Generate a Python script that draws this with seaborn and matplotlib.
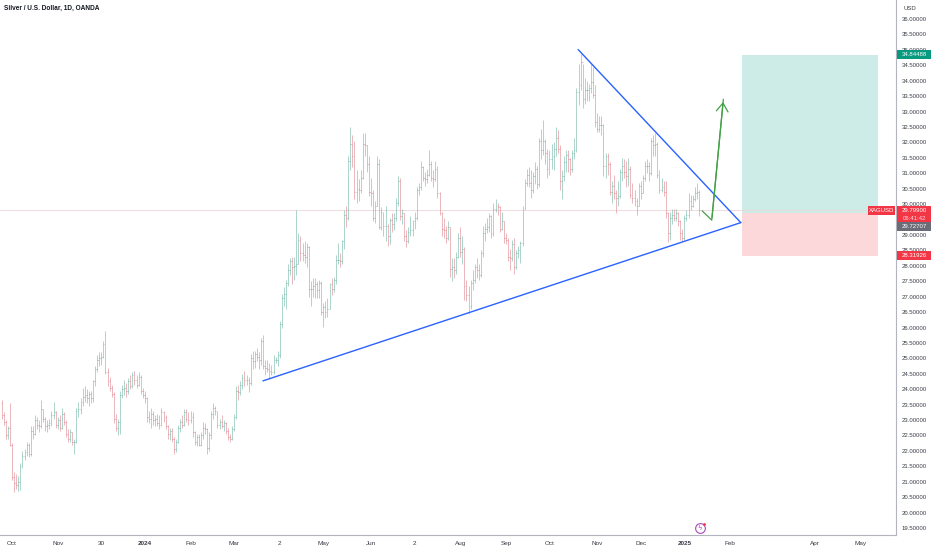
import numpy as np
import pandas as pd
import matplotlib
matplotlib.use("Agg")
import matplotlib.pyplot as plt
import seaborn as sns
from matplotlib.transforms import blended_transform_factory
from matplotlib.patches import Rectangle

# ---------------- data ----------------
title = "Silver / U.S. Dollar, 1D, OANDA"
start_date = "2023-09-25"
end_date = "2025-01-13"
holidays = ["2023-12-25", "2024-01-01", "2024-12-25", "2025-01-01"]
first_open = 23.55

closes = [
    23.15, 22.95, 22.50, 22.75, 22.20,
    21.15, 20.95, 20.90, 21.00, 21.50, 21.85, 21.95, 22.20, 21.90, 22.65, 22.55, 23.00, 22.85, 22.80, 23.35, 23.05, 22.80, 22.85, 22.90, 23.15, 23.25, 22.85,
    23.00, 22.75, 23.20, 22.95, 22.55, 22.40, 22.60, 22.30, 22.30, 23.30, 23.35, 23.60, 23.75, 23.80, 23.70, 23.85, 23.70, 24.25, 24.65, 24.95, 25.00, 25.05,
    25.45, 24.55, 24.25, 24.05, 23.85, 23.05, 22.75, 22.95, 23.80, 24.00, 24.05, 23.95, 24.25, 24.10, 24.45, 24.30, 24.15, 24.40, 23.95, 23.80,
    23.70, 23.10, 23.05, 23.20, 23.00, 23.05, 22.90, 22.85, 23.25, 23.10, 22.80, 22.55, 22.65, 22.40, 22.05, 22.30, 22.75, 22.95, 22.85, 23.25, 23.05, 23.00,
    23.10, 22.60, 22.30, 22.45, 22.20, 22.50, 22.75, 22.70, 22.10, 22.50, 23.20, 23.40, 23.30, 22.85, 22.95, 22.80, 22.90, 22.65, 22.45, 22.40, 22.70,
    23.10, 23.95, 23.90, 24.15, 24.35, 24.30, 24.30, 24.20, 25.00, 24.90, 25.15, 25.05, 24.95, 25.55, 24.75, 24.70, 24.65, 24.60, 24.55, 24.95, 24.95,
    25.10, 26.10, 26.95, 27.10, 27.45, 27.85, 28.15, 27.95, 28.00, 28.05, 28.85, 28.40, 28.35, 28.30, 28.60, 27.25, 27.25, 27.35, 27.40, 27.20, 27.45, 26.50,
    26.65, 26.50, 26.60, 27.40, 27.25, 27.55, 28.20, 28.20, 28.15, 28.80, 29.65, 29.55, 31.40, 31.95, 31.55, 30.40, 30.50, 30.45, 30.85, 31.95, 31.90, 31.30, 30.40,
    30.35, 29.55, 29.95, 31.30, 29.25, 29.75, 29.30, 29.30, 28.95, 29.50, 29.35, 29.55, 30.05, 30.75, 29.60, 29.70, 28.95, 28.80, 29.10, 29.15,
    29.45, 29.55, 30.45, 30.55, 31.20, 30.85, 30.80, 30.95, 31.30, 30.85, 30.80, 31.15, 30.35, 29.70, 29.20, 29.15, 28.90, 29.25, 27.90, 27.95, 27.85, 28.30, 28.90,
    28.45, 28.55, 27.35, 27.05, 26.70, 27.45, 27.55, 27.95, 27.85, 27.70, 28.40, 29.05, 29.20, 29.25, 29.60, 29.05, 29.85, 29.95, 29.90, 29.20, 29.45, 28.90,
    28.85, 28.30, 28.25, 28.70, 27.95, 28.40, 28.50, 28.75, 29.85, 30.70, 30.95, 30.70, 30.45, 30.90, 31.15, 30.65, 32.05, 31.75, 32.05, 31.65, 31.15,
    31.45, 31.55, 31.80, 32.15, 31.80, 30.75, 30.90, 31.35, 31.60, 31.45, 31.15, 31.65, 31.75, 33.65, 33.85, 34.60, 33.40, 33.70, 33.70, 33.75, 33.95, 33.55, 32.65,
    32.45, 32.55, 32.55, 31.25, 31.55, 31.30, 30.40, 30.60, 30.35, 30.20, 30.25, 31.05, 31.25, 31.05, 30.90, 31.15, 30.30, 30.20, 30.10, 29.95, 30.60,
    30.35, 30.85, 31.25, 31.25, 31.00, 32.05, 31.90, 31.95, 30.95, 30.45, 30.55, 30.40, 29.70, 29.05, 29.55, 29.65, 29.55, 29.70, 29.45, 29.05, 28.90,
    29.55, 29.65, 30.10, 29.95, 30.15, 30.35, 30.40, 29.80,
]
highs = [
    23.65, 23.25, 23.00, 22.80, 23.55,
    22.25, 21.30, 21.25, 21.20, 21.60, 22.00, 22.05, 22.30, 22.25, 22.80, 22.80, 23.15, 23.10, 23.00, 23.65, 23.35, 23.10, 23.00, 23.05, 23.30, 23.60, 23.30,
    23.10, 23.15, 23.40, 23.25, 23.00, 22.70, 22.70, 22.60, 22.40, 23.40, 23.60, 23.70, 24.05, 24.10, 24.00, 23.95, 23.95, 24.30, 24.75, 25.10, 25.20, 25.20,
    25.55, 25.90, 24.70, 24.40, 24.15, 23.90, 23.20, 23.05, 23.95, 24.15, 24.30, 24.20, 24.35, 24.45, 24.55, 24.60, 24.45, 24.55, 24.45, 24.05,
    23.95, 23.75, 23.30, 23.40, 23.30, 23.15, 23.20, 23.15, 23.40, 23.30, 23.15, 22.85, 22.75, 22.75, 22.45, 22.40, 22.85, 23.05, 23.15, 23.35, 23.35, 23.25,
    23.30, 23.25, 22.65, 22.55, 22.55, 22.60, 22.95, 22.90, 22.75, 22.60, 23.30, 23.55, 23.45, 23.30, 23.05, 23.15, 23.00, 22.95, 22.75, 22.55, 22.80,
    23.20, 24.10, 24.15, 24.25, 24.50, 24.60, 24.45, 24.40, 25.15, 25.25, 25.25, 25.35, 25.20, 25.65, 25.77, 24.95, 24.95, 24.85, 24.80, 25.10, 25.05,
    25.25, 26.20, 27.10, 27.30, 27.55, 28.05, 28.25, 28.30, 28.30, 29.80, 29.05, 28.95, 28.75, 28.80, 28.75, 28.65, 27.50, 27.60, 27.60, 27.50, 27.55, 27.50,
    26.80, 26.85, 26.95, 27.45, 27.60, 27.65, 28.35, 28.75, 28.40, 28.85, 29.80, 29.95, 31.55, 32.50, 32.25, 32.05, 31.10, 30.80, 31.10, 32.30, 32.30, 31.90, 31.55,
    30.85, 30.45, 30.10, 31.55, 31.45, 29.90, 29.75, 29.95, 29.35, 29.55, 29.70, 29.70, 30.20, 30.90, 30.85, 29.85, 29.70, 29.15, 29.25, 29.60,
    29.50, 29.75, 30.55, 30.70, 31.40, 31.25, 31.05, 31.15, 31.75, 31.40, 31.10, 31.40, 31.25, 30.40, 29.75, 29.55, 29.30, 29.45, 29.25, 28.25, 28.25, 28.45, 29.05,
    29.25, 28.95, 28.60, 27.55, 27.35, 27.55, 27.85, 28.05, 28.25, 28.05, 28.50, 29.30, 29.40, 29.55, 29.70, 29.65, 30.05, 30.15, 30.05, 29.95, 29.75, 29.45,
    29.05, 28.90, 28.55, 28.85, 28.90, 28.50, 28.65, 28.80, 29.95, 30.80, 31.15, 31.20, 31.10, 31.05, 31.35, 31.25, 32.15, 32.45, 32.73, 32.10, 31.80,
    31.75, 31.95, 32.00, 32.50, 32.40, 31.90, 31.10, 31.55, 31.75, 31.75, 31.50, 31.75, 32.15, 33.75, 34.55, 34.87, 34.55, 34.10, 34.00, 33.90, 34.55, 34.45, 33.85,
    32.95, 32.85, 32.85, 32.60, 31.65, 31.65, 31.35, 30.75, 30.95, 30.45, 30.75, 31.15, 31.50, 31.45, 31.40, 31.50, 31.25, 30.70, 30.45, 30.20, 30.70,
    30.75, 30.95, 31.40, 31.45, 31.35, 32.15, 32.25, 32.30, 32.00, 31.10, 30.85, 30.75, 30.75, 29.75, 29.75, 29.85, 29.85, 29.85, 29.75, 29.50, 29.20,
    29.65, 29.80, 30.35, 30.30, 30.30, 30.55, 30.70, 30.45,
]
lows = [
    23.05, 22.85, 22.40, 22.40, 22.15,
    21.05, 20.68, 20.75, 20.70, 20.72, 21.45, 21.70, 21.85, 21.80, 21.85, 22.40, 22.50, 22.70, 22.60, 22.75, 22.95, 22.65, 22.60, 22.70, 22.80, 23.05, 22.75,
    22.70, 22.65, 22.70, 22.85, 22.45, 22.30, 22.30, 22.20, 21.90, 22.25, 23.10, 23.20, 23.45, 23.60, 23.55, 23.45, 23.55, 23.60, 24.10, 24.55, 24.75, 24.80,
    25.00, 24.50, 24.10, 23.95, 23.75, 22.90, 22.65, 22.50, 22.55, 23.70, 23.80, 23.75, 23.85, 24.00, 24.05, 24.15, 24.05, 24.10, 23.85, 23.70,
    23.55, 22.95, 22.90, 22.75, 22.85, 22.80, 22.80, 22.70, 22.80, 22.95, 22.70, 22.40, 22.35, 22.30, 21.90, 21.95, 22.25, 22.60, 22.75, 22.80, 22.95, 22.85,
    22.90, 22.45, 22.20, 22.15, 22.15, 22.15, 22.40, 22.55, 21.90, 22.00, 22.40, 23.05, 23.15, 22.75, 22.70, 22.75, 22.65, 22.55, 22.35, 22.30, 22.35,
    22.65, 23.05, 23.65, 23.80, 24.00, 24.10, 24.15, 23.90, 24.15, 24.65, 24.70, 24.90, 24.65, 24.80, 24.65, 24.45, 24.55, 24.35, 24.45, 24.50, 24.85,
    24.75, 25.00, 26.00, 26.70, 26.60, 27.35, 27.70, 27.40, 27.55, 27.70, 28.05, 28.15, 28.15, 28.10, 27.95, 27.00, 26.70, 27.00, 26.95, 26.95, 26.95, 26.40,
    26.02, 26.30, 26.35, 26.60, 27.05, 27.15, 27.40, 28.05, 27.95, 28.05, 28.55, 29.25, 29.50, 31.10, 31.20, 30.15, 30.05, 30.10, 30.35, 30.80, 31.55, 31.05, 30.25,
    29.95, 29.45, 29.40, 29.95, 29.20, 29.15, 28.95, 28.80, 28.65, 28.70, 29.10, 29.15, 29.45, 29.95, 29.50, 29.35, 28.80, 28.60, 28.75, 28.95,
    28.95, 29.20, 29.50, 30.30, 30.45, 30.75, 30.60, 30.70, 30.90, 30.75, 30.55, 30.75, 30.20, 29.65, 28.95, 28.90, 28.75, 28.85, 27.65, 27.50, 27.60, 27.75, 28.25,
    28.30, 28.05, 26.90, 26.85, 26.45, 26.60, 27.20, 27.45, 27.60, 27.55, 27.65, 28.30, 28.80, 29.05, 29.10, 28.90, 28.95, 29.75, 29.65, 29.10, 29.15, 28.75,
    28.70, 28.15, 27.85, 28.15, 27.75, 27.90, 28.25, 28.10, 28.65, 29.85, 30.60, 30.55, 30.20, 30.35, 30.65, 30.50, 30.55, 31.45, 31.60, 31.30, 30.85,
    30.95, 31.15, 31.10, 31.55, 31.65, 30.45, 30.15, 30.75, 31.05, 31.05, 30.95, 31.05, 31.45, 31.70, 33.20, 33.70, 33.10, 33.25, 33.35, 33.35, 33.60, 33.45, 32.50,
    32.35, 32.35, 32.25, 30.90, 30.85, 30.95, 30.30, 30.05, 30.15, 29.70, 29.95, 30.20, 30.75, 30.85, 30.55, 30.60, 30.20, 30.05, 29.95, 29.65, 29.95,
    30.15, 30.35, 30.75, 31.00, 30.75, 30.95, 31.55, 31.55, 30.85, 30.35, 30.40, 30.25, 29.55, 28.77, 28.85, 29.35, 29.45, 29.45, 29.30, 28.85, 28.80,
    28.85, 29.45, 29.55, 29.80, 29.90, 30.10, 30.15, 29.60,
]

tick_dates = ["2023-10-02", "2023-11-01", "2023-11-30", "2024-01-02", "2024-02-01", "2024-03-01",
              "2024-04-02", "2024-05-01", "2024-06-03", "2024-07-02", "2024-08-01", "2024-09-02",
              "2024-10-01", "2024-11-01", "2024-12-02", "2025-01-02", "2025-02-03", "2025-04-01", "2025-05-01"]
tick_labels = ["Oct", "Nov", "30", "2024", "Feb", "Mar", "2", "May", "Jun", "2", "Aug", "Sep",
               "Oct", "Nov", "Dec", "2025", "Feb", "Apr", "May"]

# drawings (bar index, price)
support_line = ([125.9, 356.2], [24.27, 29.40])
resistance_line = ([277.8, 356.2], [35.01, 29.40])
arrow_x = [337.6, 342.2, 347.8]
arrow_y = [29.78, 29.48, 33.40]
position_x = (357.0, 422.3)
entry_price = 29.72707
target_price = 34.84488
stop_price = 28.31926
last_price = 29.79900
countdown = "06:41:42"
symbol = "XAGUSD"
price_ticks = np.arange(19.5, 36.01, 0.5)

# ---------------- build frame ----------------
dates = pd.bdate_range(start_date, end_date, freq="C", holidays=holidays)
n = len(closes)
dates = dates[:n]
opens = [first_open] + closes[:-1]
df = pd.DataFrame({"date": dates, "x": np.arange(n), "open": opens,
                   "high": highs, "low": lows, "close": closes})
df["up"] = df["close"] >= df["open"]

tick_pos = np.busday_count(np.datetime64(start_date), np.array(tick_dates, dtype="datetime64[D]"),
                           holidays=holidays)

# ---------------- figure ----------------
sns.set_theme(style="white")
plt.rcParams["font.family"] = ["Liberation Sans", "DejaVu Sans"]

W, H = 932, 550
fig = plt.figure(figsize=(W / 100, H / 100), dpi=100)
fig.patch.set_facecolor("white")
ax = fig.add_axes([0, 15 / H, 896 / W, 535 / H])
ax.set_facecolor("white")
ax.set_xlim(-0.82, 431.0)
ax.set_ylim(19.274, 36.616)

up_col, dn_col = "#5fae9c", "#d9737d"
cols = np.where(df["up"], up_col, dn_col)
bar_kw = dict(colors=cols, linewidth=0.65, alpha=0.55)
ax.vlines(df["x"], df["low"], df["high"], **bar_kw)
ax.hlines(df["open"], df["x"] - 0.45, df["x"], **bar_kw)
ax.hlines(df["close"], df["x"], df["x"] + 0.45, **bar_kw)

# last price line
ax.axhline(last_price, color="#ecd6d8", lw=0.6, zorder=1)

# long position tool
ax.add_patch(Rectangle((position_x[0], entry_price), position_x[1] - position_x[0],
                       target_price - entry_price, facecolor="#cdebe7", edgecolor="none", zorder=0.5))
ax.add_patch(Rectangle((position_x[0], stop_price), position_x[1] - position_x[0],
                       entry_price - stop_price, facecolor="#fcd8da", edgecolor="none", zorder=0.5))

# trend lines
sns.lineplot(x=support_line[0], y=support_line[1], ax=ax, color="#2962ff", linewidth=1.0)
sns.lineplot(x=resistance_line[0], y=resistance_line[1], ax=ax, color="#2962ff", linewidth=1.0)

# projected path arrow
sns.lineplot(x=arrow_x, y=arrow_y, ax=ax, color="#43a047", linewidth=0.9, sort=False)
ax.annotate("", xy=(arrow_x[-1], arrow_y[-1]), xytext=(arrow_x[-2], arrow_y[-2]),
            arrowprops=dict(arrowstyle="->,head_length=0.5,head_width=0.35", color="#43a047", lw=0.9))

# spines
for s in ["top", "left"]:
    ax.spines[s].set_visible(False)
for s in ["right", "bottom"]:
    ax.spines[s].set_color("#b2b5be")
    ax.spines[s].set_linewidth(0.8)

# axes ticks
ax.yaxis.tick_right()
ax.set_yticks(price_ticks)
ax.set_yticklabels([f"{v:.5f}" for v in price_ticks])
ax.tick_params(axis="y", length=0, pad=4, labelsize=4.3, labelcolor="#3a3d48")
ax.set_xticks(tick_pos)
ax.set_xticklabels(tick_labels)
ax.tick_params(axis="x", length=0, pad=4, labelsize=4.6, labelcolor="#3a3d48")
for lab in ax.get_xticklabels():
    if lab.get_text() in ("2024", "2025"):
        lab.set_fontweight("bold")
ax.grid(False)

# titles
fig.text(4 / W, 1 - 8 / H, title, fontsize=4.7, color="#131722", va="center", ha="left",
         fontweight="semibold")
fig.text(904 / W, 1 - 9 / H, "USD", fontsize=4.3, color="#3a3d48", va="center", ha="left")

# price-scale labels
ppu = 535 / (36.616 - 19.274)  # pixels per price unit
tr = blended_transform_factory(fig.transFigure, ax.transData)


def price_box(x0, x1, yc, h_px, face, text, tcolor="white"):
    h = h_px / ppu
    ax.add_patch(Rectangle((x0 / W, yc - h / 2), (x1 - x0) / W, h, transform=tr,
                           facecolor=face, edgecolor="none", clip_on=False, zorder=5))
    ax.text((x0 + x1) / 2 / W, yc, text, transform=tr, fontsize=4.3, color=tcolor,
            ha="center", va="center", zorder=6, clip_on=False)


price_box(897, 931, target_price, 9, "#089981", f"{target_price:.5f}")
price_box(868, 895, last_price, 9, "#f23645", symbol)
# two-line last price label
h2 = 17 / ppu
ax.add_patch(Rectangle((897 / W, last_price + 4.5 / ppu - h2), 34 / W, h2, transform=tr,
                       facecolor="#f23645", edgecolor="none", clip_on=False, zorder=5))
ax.text(914 / W, last_price, f"{last_price:.5f}", transform=tr, fontsize=4.3, color="white",
        ha="center", va="center", zorder=6)
ax.text(914 / W, last_price - 8 / ppu, countdown, transform=tr, fontsize=4.3, color="#ffd6d9",
        ha="center", va="center", zorder=6)
price_box(897, 931, last_price - 16.5 / ppu, 9, "#6a6d78", f"{entry_price:.5f}")
price_box(897, 931, stop_price, 9, "#f23645", f"{stop_price:.5f}")

# event icon near the time axis
trx = blended_transform_factory(ax.transData, ax.transAxes)
ax.plot([336.5], [7 / 535], transform=trx, marker="o", ms=7, mfc="white", mec="#ab47bc",
        mew=0.8, clip_on=False, zorder=6)
ax.text(336.5, 7 / 535, "ϟ", transform=trx, fontsize=5, color="#ab47bc", ha="center",
        va="center", family=["DejaVu Sans"], zorder=7)
ax.plot([338.3], [11 / 535], transform=trx, marker="o", ms=2, mfc="#f23645", mec="none",
        clip_on=False, zorder=8)

fig.savefig("out.png", dpi=100)
